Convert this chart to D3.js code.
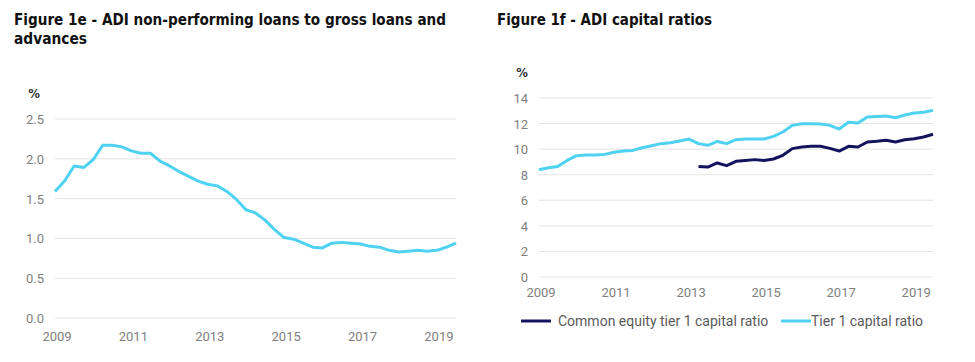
<!DOCTYPE html>
<html lang="en">
<head>
  <meta charset="UTF-8">
  <title>ADI charts</title>
  <script src="https://d3js.org/d3.v7.min.js"></script>
  <style>
    body { margin: 0; background: #fff; }
    .title { font-family: "Liberation Sans Narrow", "DejaVu Sans Condensed", sans-serif; font-weight: bold; font-size: 16px; fill: #111; }
    .tick-label { font-family: Roboto, "Noto Sans", sans-serif; font-size: 13px; fill: #808080; }
    .unit { font-family: "DejaVu Sans Condensed", sans-serif; font-weight: bold; font-size: 13px; fill: #333; }
    .legend { font-family: Roboto, "Noto Sans", sans-serif; font-size: 14px; fill: #5a5a5a; }
  </style>
</head>
<body>
<svg id="chart" width="975" height="362"></svg>
<script>
  // quarterly observations, 2009Q1 .. 2019Q3
  const quarters = [
    "2009Q1","2009Q2","2009Q3","2009Q4","2010Q1","2010Q2","2010Q3","2010Q4",
    "2011Q1","2011Q2","2011Q3","2011Q4","2012Q1","2012Q2","2012Q3","2012Q4",
    "2013Q1","2013Q2","2013Q3","2013Q4","2014Q1","2014Q2","2014Q3","2014Q4",
    "2015Q1","2015Q2","2015Q3","2015Q4","2016Q1","2016Q2","2016Q3","2016Q4",
    "2017Q1","2017Q2","2017Q3","2017Q4","2018Q1","2018Q2","2018Q3","2018Q4",
    "2019Q1","2019Q2","2019Q3"
  ];

  const npl = [
    1.59, 1.72, 1.91, 1.89, 1.99, 2.17, 2.17, 2.15,
    2.10, 2.07, 2.07, 1.97, 1.91, 1.84, 1.78, 1.72,
    1.68, 1.66, 1.59, 1.49, 1.36, 1.32, 1.23, 1.11,
    1.01, 0.99, 0.94, 0.89, 0.88, 0.94, 0.95, 0.94,
    0.93, 0.90, 0.89, 0.85, 0.83, 0.84, 0.85, 0.84,
    0.85, 0.89, 0.94
  ];

  const tier1 = [
    8.39, 8.55, 8.65, 9.12, 9.49, 9.54, 9.54, 9.59,
    9.75, 9.85, 9.90, 10.11, 10.27, 10.43, 10.50, 10.64,
    10.79, 10.43, 10.30, 10.60, 10.43, 10.74, 10.79, 10.79,
    10.79, 11.00, 11.34, 11.86, 11.99, 11.99, 11.97, 11.86,
    11.57, 12.10, 12.04, 12.51, 12.56, 12.59, 12.46, 12.67,
    12.83, 12.88, 13.03
  ];

  // CET1 only reported from 2013Q2
  const cet1 = [
    null, null, null, null, null, null, null, null,
    null, null, null, null, null, null, null, null,
    null, 8.65, 8.60, 8.92, 8.71, 9.05, 9.12, 9.18,
    9.12, 9.23, 9.52, 10.04, 10.17, 10.22, 10.22, 10.06,
    9.85, 10.22, 10.17, 10.56, 10.61, 10.69, 10.56, 10.74,
    10.82, 10.95, 11.16
  ];

  const yearTicks = [2009, 2011, 2013, 2015, 2017, 2019];
  const nplTicks = [0, 0.5, 1.0, 1.5, 2.0, 2.5];
  const capTicks = [0, 2, 4, 6, 8, 10, 12, 14];

  const LIGHT = "#4fd2f2";
  const DARK = "#14145e";

  const qToYear = q => +q.slice(0, 4) + (+q.slice(5) - 1) / 4;
  const xs = quarters.map(qToYear);

  const svg = d3.select("#chart");

  function fitText(sel, width) {
    const w = sel.node().getComputedTextLength();
    if (Math.abs(w - width) > 2) {
      sel.attr("textLength", width).attr("lengthAdjust", "spacingAndGlyphs");
    }
  }

  function drawPanel(opts) {
    const x = d3.scaleLinear().domain([2009, 2019.5]).range([opts.left, opts.right]);
    const y = d3.scaleLinear().domain(opts.yDomain).range([opts.bottom, opts.top]);

    const g = svg.append("g");

    g.selectAll(".grid")
      .data(opts.yTicks)
      .enter()
      .append("line")
      .attr("x1", opts.left)
      .attr("x2", opts.right)
      .attr("y1", d => y(d))
      .attr("y2", d => y(d))
      .attr("stroke", "#e4e4e4")
      .attr("stroke-width", 1);

    g.selectAll(".ylab")
      .data(opts.yTicks)
      .enter()
      .append("text")
      .attr("class", "tick-label")
      .attr("x", opts.labelX)
      .attr("y", d => y(d) + 5)
      .attr("text-anchor", "end")
      .text(opts.yFormat);

    g.selectAll(".xlab")
      .data(yearTicks)
      .enter()
      .append("text")
      .attr("class", "tick-label")
      .attr("x", d => x(d) + opts.xShift)
      .attr("y", opts.xLabelY)
      .attr("text-anchor", "middle")
      .text(d => d);

    g.append("text")
      .attr("class", "unit")
      .attr("x", opts.unitX)
      .attr("y", opts.unitY)
      .attr("text-anchor", "middle")
      .text("%");

    opts.series.forEach(s => {
      const line = d3.line()
        .defined(d => d[1] != null)
        .x(d => x(d[0]))
        .y(d => y(d[1]))
        .curve(d3.curveLinear);
      g.append("path")
        .datum(xs.map((v, i) => [v, s.values[i]]))
        .attr("fill", "none")
        .attr("stroke", s.color)
        .attr("stroke-width", 3)
        .attr("stroke-linejoin", "round")
        .attr("d", line);
    });
  }

  // titles
  fitText(svg.append("text").attr("class", "title").attr("x", 14).attr("y", 25)
    .text("Figure 1e - ADI non-performing loans to gross loans and"), 432);
  fitText(svg.append("text").attr("class", "title").attr("x", 14).attr("y", 44)
    .text("advances"), 73);
  fitText(svg.append("text").attr("class", "title").attr("x", 497).attr("y", 25)
    .text("Figure 1f - ADI capital ratios"), 215);

  drawPanel({
    left: 55, right: 456, top: 119, bottom: 318,
    yDomain: [0, 2.5], yTicks: nplTicks, yFormat: d3.format(".1f"),
    labelX: 44, xLabelY: 341, xShift: 2, unitX: 34, unitY: 98,
    series: [{ values: npl, color: LIGHT }]
  });

  drawPanel({
    left: 539, right: 933, top: 98, bottom: 277,
    yDomain: [0, 14], yTicks: capTicks, yFormat: d3.format("d"),
    labelX: 528, xLabelY: 297, xShift: 2, unitX: 522, unitY: 77,
    series: [
      { values: tier1, color: LIGHT },
      { values: cet1, color: DARK }
    ]
  });

  // legend
  const legend = svg.append("g");
  const items = [
    { label: "Common equity tier 1 capital ratio", color: DARK, x: 521, tx: 558 },
    { label: "Tier 1 capital ratio", color: LIGHT, x: 781, tx: 811 }
  ];
  items.forEach(it => {
    legend.append("line")
      .attr("x1", it.x).attr("x2", it.x + 30)
      .attr("y1", 321).attr("y2", 321)
      .attr("stroke", it.color).attr("stroke-width", 3);
    legend.append("text")
      .attr("class", "legend")
      .attr("x", it.tx).attr("y", 326)
      .text(it.label);
  });
</script>
</body>
</html>
